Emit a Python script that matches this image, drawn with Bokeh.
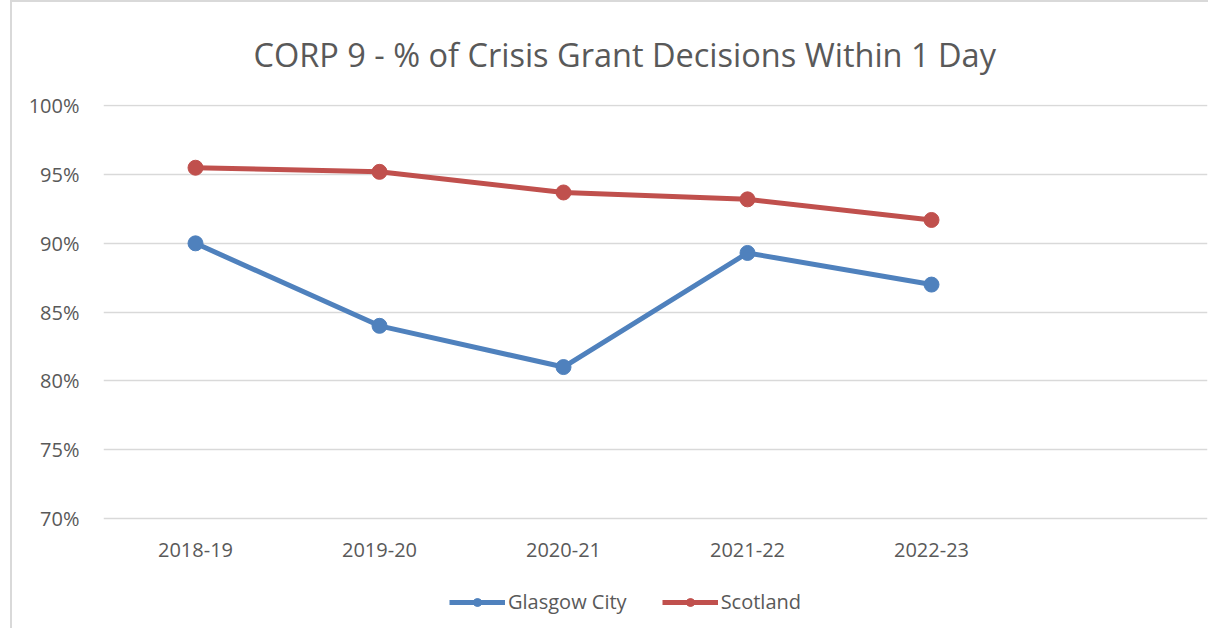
from bokeh.plotting import figure
from bokeh.models import FactorRange, Range1d, Legend, LegendItem, PrintfTickFormatter, FixedTicker
from bokeh.core.properties import value
from bokeh.embed import file_html
from bokeh.resources import INLINE

title_text = "CORP 9 - % of Crisis Grant Decisions Within 1 Day"
years = ["2018-19", "2019-20", "2020-21", "2021-22", "2022-23"]
extra_slot = [" "]
glasgow = [90.0, 84.0, 81.0, 89.3, 87.0]
scotland = [95.5, 95.2, 93.7, 93.2, 91.7]
y_ticks = [70, 75, 80, 85, 90, 95, 100]

BLUE = "#4f81bd"
RED = "#c0504d"
TXT = "#595959"
FONT = "Open Sans"
LABEL_LEVEL = 67.7   # vertical level (in axis units) of the category labels

p = figure(width=1198, height=628,
           x_range=FactorRange(factors=years + extra_slot, range_padding=0),
           y_range=Range1d(62.2, 100.1),
           output_backend="svg", toolbar_location=None,
           min_border_left=91, min_border_right=3, min_border_top=100, min_border_bottom=5)
p.styles = {"border-left": "2px solid #d9d9d9", "border-top": "2px solid #d9d9d9",
            "margin-left": "10px"}
p.outline_line_color = None

p.title.text = title_text
p.title.align = "left"
p.title.offset = 150
p.title.standoff = 55
p.title.text_font = FONT
p.title.text_font_size = "32.5px"
p.title.text_font_style = "normal"
p.title.text_color = TXT

p.xgrid.grid_line_color = None
p.ygrid.ticker = FixedTicker(ticks=y_ticks)
p.ygrid.grid_line_color = "#d9d9d9"
p.ygrid.grid_line_width = 1.5
p.yaxis.ticker = FixedTicker(ticks=y_ticks)
p.yaxis.formatter = PrintfTickFormatter(format="%d%%")
p.yaxis.axis_line_color = None
p.yaxis.major_tick_line_color = None
p.yaxis.minor_tick_line_color = None
p.yaxis.major_label_text_font = FONT
p.yaxis.major_label_text_font_size = "20px"
p.yaxis.major_label_text_color = TXT
p.yaxis.major_label_standoff = 18
p.xaxis.visible = False

# category labels drawn through the categorical scale
p.text(x=years, y=[LABEL_LEVEL] * len(years), text=years,
       text_align="center", text_baseline="middle",
       text_font=value(FONT), text_font_size=value("20px"), text_color=TXT)

gl = p.line(years, glasgow, line_color=BLUE, line_width=5)
gc = p.scatter(years, glasgow, size=15, fill_color=BLUE, line_color=BLUE)
sl = p.line(years, scotland, line_color=RED, line_width=5)
sc = p.scatter(years, scotland, size=15, fill_color=RED, line_color=RED)

legend = Legend(items=[LegendItem(label="Glasgow City", renderers=[gl, gc]),
                       LegendItem(label="Scotland", renderers=[sl, sc])],
                orientation="horizontal", location=(346, 10),
                border_line_color=None, background_fill_alpha=0,
                glyph_width=56, glyph_height=20, label_standoff=3, spacing=35,
                label_text_font=FONT, label_text_font_size="20px", label_text_color=TXT,
                padding=0, margin=0)
p.add_layout(legend)

open("out.html", "w").write(file_html(p, INLINE))
